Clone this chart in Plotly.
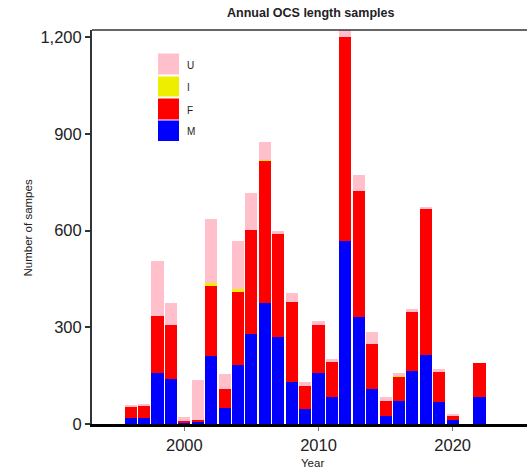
import plotly.graph_objects as go

# Annual OCS length samples by sex category
years = list(range(1996, 2023))
male = [20, 20, 157, 139, 2, 7, 210, 50, 182, 280, 375, 270, 129, 47, 157, 85,
        568, 333, 108, 25, 72, 164, 213, 68, 12, 0, 85]
female = [34, 38, 179, 169, 8, 5, 218, 60, 227, 321, 443, 318, 250, 72, 151, 107,
          633, 391, 140, 46, 74, 182, 455, 92, 15, 0, 104]
indeterminate = [0, 0, 0, 0, 0, 0, 10, 0, 9, 0, 2, 0, 0, 0, 0, 0,
                 0, 0, 0, 0, 3, 0, 0, 0, 0, 0, 0]
unsexed = [3, 2, 169, 67, 13, 124, 198, 44, 151, 116, 56, 12, 28, 10, 12, 11,
           40, 49, 36, 12, 8, 12, 3, 10, 5, 0, 0]

series = [("M", male, "#0000FF"), ("F", female, "#FF0000"),
          ("I", indeterminate, "#EEEE00"), ("U", unsexed, "#FFC0CB")]

y_ticks = [0, 300, 600, 900, 1200]
x_ticks = [2000, 2010, 2020]

W, H = 527, 469
ML, MR, MT, MB = 92, 0, 30, 45
PW, PH = W - ML - MR, H - MT - MB


def paper(px, py):
    """Convert page pixels to paper coordinates of the plot area."""
    return (px - ML) / PW, (H - MB - py) / PH


FONT = "Liberation Sans, Arial, sans-serif"
TXT = "#222222"

fig = go.Figure()
for name, vals, col in series:
    fig.add_trace(go.Bar(x=years, y=vals, name=name, width=0.9,
                         marker=dict(color=col, line=dict(width=0)),
                         showlegend=False))

# hand-built legend with large square keys
keys = [("U", "#FFC0CB", 53.5, 74.5), ("I", "#EEEE00", 76.5, 96.5),
        ("F", "#FF0000", 98.5, 119.5), ("M", "#0000FF", 120.5, 141)]
shapes = []
annotations = []
for lab, col, top, bot in keys:
    x0, y0 = paper(158, bot)
    x1, y1 = paper(179, top)
    shapes.append(dict(type="rect", xref="paper", yref="paper",
                       x0=x0, x1=x1, y0=y0, y1=y1,
                       fillcolor=col, line=dict(width=0), layer="above"))
    tx, ty = paper(185, (top + bot) / 2 + 1)
    annotations.append(dict(x=tx, y=ty, xref="paper", yref="paper", text=lab,
                            showarrow=False, xanchor="left", yanchor="middle",
                            font=dict(family=FONT, size=10, color=TXT)))

# top border of the panel
shapes.append(dict(type="line", xref="paper", yref="paper", x0=0, x1=1,
                   y0=1, y1=1, line=dict(color="#333333", width=1.5)))

ax, ay = paper(312, 463)
annotations.append(dict(x=ax, y=ay, xref="paper", yref="paper", text="Year",
                        showarrow=False, xanchor="center", yanchor="middle",
                        font=dict(family=FONT, size=11.5, color=TXT)))
bx, by = paper(27, 228.5)
annotations.append(dict(x=bx, y=by, xref="paper", yref="paper",
                        text="Number of sampes", textangle=-90,
                        showarrow=False, xanchor="center", yanchor="middle",
                        font=dict(family=FONT, size=11.5, color=TXT)))
cx, cy = paper(310.5, 13)
annotations.append(dict(x=cx, y=cy, xref="paper", yref="paper",
                        text="<b>Annual OCS length samples</b>",
                        showarrow=False, xanchor="center", yanchor="middle",
                        font=dict(family=FONT, size=12.5, color=TXT)))

fig.update_layout(
    width=W, height=H,
    margin=dict(l=ML, r=MR, t=MT, b=MB, pad=0),
    barmode="stack", bargap=0.1,
    plot_bgcolor="white", paper_bgcolor="white",
    showlegend=False,
    shapes=shapes, annotations=annotations,
    xaxis=dict(range=[1993.12, 2025.54], tickvals=x_ticks,
               ticks="outside", ticklen=4, tickcolor="#777777", tickwidth=1,
               showline=True, linecolor="black", linewidth=3,
               showgrid=False, zeroline=False,
               tickfont=dict(family=FONT, size=16.5, color=TXT)),
    yaxis=dict(range=[0, 1222], tickvals=y_ticks, tickformat=",",
               ticks="outside", ticklen=5, tickcolor="#333333", tickwidth=1.5,
               showline=True, linecolor="#333333", linewidth=2,
               showgrid=False, zeroline=False,
               tickfont=dict(family=FONT, size=16.5, color=TXT)),
)

fig.write_html("out.html")
